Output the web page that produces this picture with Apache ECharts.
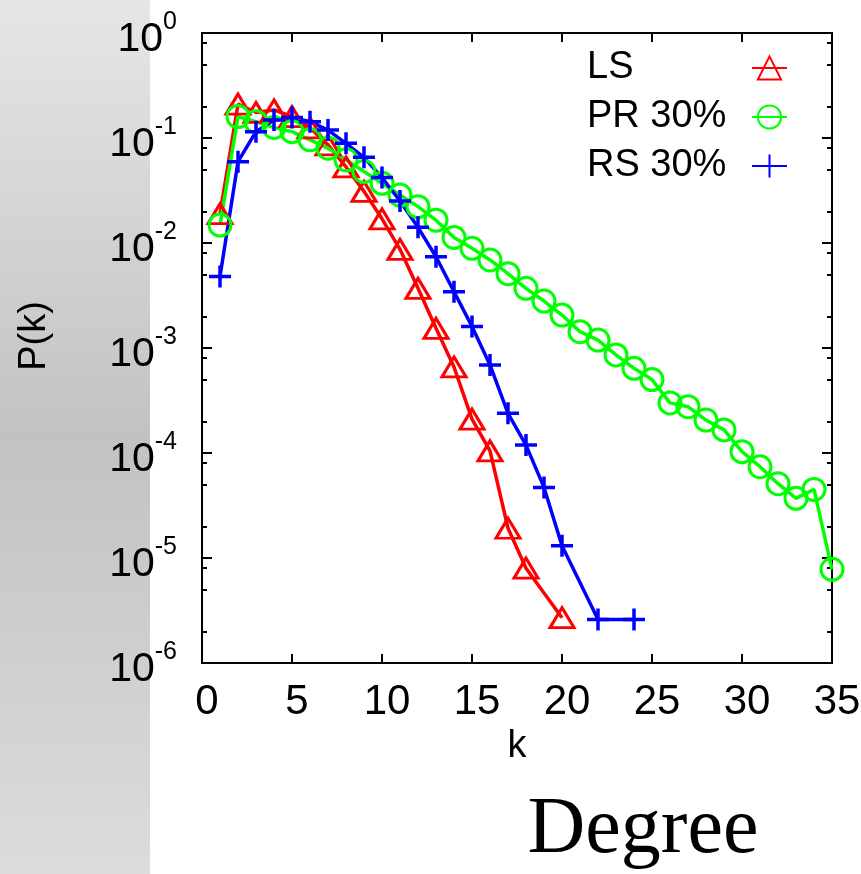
<!DOCTYPE html>
<html>
<head>
<meta charset="utf-8">
<title>P(k)</title>
<script src="https://cdn.jsdelivr.net/npm/echarts@6.0.0/dist/echarts.min.js"></script>
<style>
  html, body { margin: 0; padding: 0; background: #fff; }
  #line { width: 861px; height: 874px; }
</style>
</head>
<body>
<div id="line"></div>
<script>
// degree distribution P(k)
var lsK = [1, 2, 3, 4, 5, 6, 7, 8, 9, 10, 11, 12, 13, 14, 15, 16, 17, 18, 20]
var lsP = [0.019, 0.21, 0.175, 0.185, 0.16, 0.125, 0.086, 0.053, 0.031, 0.017, 0.0087, 0.0037,
  0.00154, 0.00066, 0.00021, 0.000105, 0.0000192, 0.000008, 0.0000027]

var prK = [1, 2, 3, 4, 5, 6, 7, 8, 9, 10, 11, 12, 13, 14, 15, 16, 17, 18, 19, 20,
  21, 22, 23, 24, 25, 26, 27, 28, 29, 30, 31, 32, 33, 34, 35]
var prP = [0.0148, 0.16, 0.143, 0.126, 0.115, 0.096, 0.08, 0.062, 0.048, 0.037, 0.0286, 0.0222,
  0.0165, 0.0113, 0.0089, 0.0069, 0.0051, 0.0037, 0.0028, 0.00206, 0.00143, 0.00119, 0.00086,
  0.00064, 0.0005, 0.0003, 0.000276, 0.000206, 0.000166, 0.000103, 0.000074, 0.000051,
  0.000037, 0.000045, 0.0000078]

var rsK = [1, 2, 3, 4, 5, 6, 7, 8, 9, 10, 11, 12, 13, 14, 15, 16, 17, 18, 19, 20, 22, 24]
var rsP = [0.0048, 0.0595, 0.115, 0.148, 0.157, 0.143, 0.119, 0.089, 0.0655, 0.042, 0.0251,
  0.0141, 0.0074, 0.00344, 0.0016, 0.00069, 0.000239, 0.000119, 0.000047, 0.0000131,
  0.0000026, 0.0000026]

var names = ['LS', 'PR 30%', 'RS 30%']

// tick marks on the log axis
var yMajor = [0.000001, 0.00001, 0.0001, 0.001, 0.01, 0.1, 1]
var yMinor = [0.000002, 0.000005, 0.000008, 0.00002, 0.00005, 0.00008, 0.0002, 0.0005, 0.0008,
  0.002, 0.005, 0.008, 0.02, 0.05, 0.08, 0.2, 0.5, 0.8]

var font = "'Liberation Sans', Arial, sans-serif"

function pairs(ks, ps) {
  return ks.map(function (k, i) { return [k, ps[i]] })
}

var myChart = echarts.init(document.getElementById('line'))

function logAxis(pos, ticks, len, showLine, showLabel) {
  return {
    type: 'log',
    logBase: 10,
    position: pos,
    min: 0.000001,
    max: 1,
    splitLine: { show: false },
    axisLine: { show: showLine, lineStyle: { color: '#000', width: 2 } },
    axisTick: {
      show: true,
      inside: true,
      length: len,
      customValues: ticks,
      lineStyle: { color: '#000', width: 2 }
    },
    axisLabel: {
      show: showLabel,
      customValues: ticks,
      margin: 25,
      formatter: function (v) {
        var e = Math.round(Math.log10(v))
        return '{b|10}{s|' + e + '}'
      },
      rich: {
        // 上标: 靠上对齐, 底数靠下
        b: { fontFamily: font, fontSize: 41, color: '#000', lineHeight: 54, verticalAlign: 'bottom' },
        s: { fontFamily: font, fontSize: 25, color: '#000', height: 32, verticalAlign: 'top' }
      }
    }
  }
}

function xAxis(pos, showLabel) {
  return {
    type: 'value',
    position: pos,
    min: 0,
    max: 35,
    interval: 5,
    splitLine: { show: false },
    axisLine: { show: true, onZero: false, lineStyle: { color: '#000', width: 2 } },
    axisTick: { show: true, inside: true, length: 9, lineStyle: { color: '#000', width: 2 } },
    axisLabel: {
      show: showLabel,
      margin: 18,
      fontFamily: font,
      fontSize: 42,
      color: '#000',
      padding: [0, 0, 0, 10]
    }
  }
}

var bottomX = xAxis('bottom', true)
bottomX.name = 'k'
bottomX.nameLocation = 'middle'
bottomX.nameGap = 56
bottomX.nameTextStyle = { fontFamily: font, fontSize: 38, color: '#000' }

var leftY = logAxis('left', yMajor, 10, true, true)
leftY.name = 'P(k)'
leftY.nameLocation = 'middle'
leftY.nameGap = 148
leftY.nameTextStyle = { fontFamily: font, fontSize: 38, color: '#000', padding: [0, 0, 0, 24] }

var option = {
  animation: false,
  backgroundColor: '#fff',
  graphic: [
    {
      type: 'rect',
      z: -10,
      shape: { x: 0, y: 0, width: 150, height: 874 },
      style: {
        fill: new echarts.graphic.LinearGradient(0, 0, 0, 1, [
          { offset: 0, color: '#e6e6e6' },
          { offset: 0.5, color: '#c2c2c2' },
          { offset: 1, color: '#dcdcdc' }
        ])
      }
    },
    {
      type: 'text',
      x: 643,
      y: 831,
      style: {
        text: 'Degree',
        fontFamily: "'Liberation Serif', 'Times New Roman', serif",
        fontSize: 80,
        fill: '#000',
        align: 'center',
        verticalAlign: 'middle'
      }
    }
  ],
  grid: {
    left: 202,
    right: 29,
    top: 33,
    bottom: 211,
    containLabel: false,
    outerBoundsMode: 'none'
  },
  legend: {
    data: names,
    orient: 'vertical',
    align: 'right',
    left: 587,
    top: 49,
    padding: 0,
    itemGap: 11,
    itemWidth: 35,
    itemHeight: 29,
    selectedMode: false,
    formatter: function (name) {
      return '{a|' + name + '}'
    },
    textStyle: {
      rich: {
        a: { fontFamily: font, fontSize: 38, color: '#000', lineHeight: 40, width: 160, align: 'left' }
      }
    }
  },
  xAxis: [bottomX, xAxis('top', false)],
  yAxis: [
    leftY,
    logAxis('left', yMinor, 5, false, false),
    logAxis('right', yMajor, 10, true, false),
    logAxis('right', yMinor, 5, false, false)
  ],
  series: [
    {
      name: names[0],
      type: 'line',
      data: pairs(lsK, lsP),
      symbol: 'triangle',
      symbolSize: [24, 20],
      itemStyle: { color: 'rgba(0,0,0,0)', borderColor: '#ff0000', borderWidth: 3 },
      lineStyle: { color: '#ff0000', width: 3.5 }
    },
    {
      name: names[1],
      type: 'line',
      data: pairs(prK, prP),
      symbol: 'circle',
      symbolSize: 22,
      itemStyle: { color: 'rgba(0,0,0,0)', borderColor: '#00ff00', borderWidth: 3 },
      lineStyle: { color: '#00ff00', width: 3.5 }
    },
    {
      name: names[2],
      type: 'line',
      data: pairs(rsK, rsP),
      symbol: 'path://M0,10L20,10M10,0L10,20',
      symbolSize: 22,
      itemStyle: { color: 'rgba(0,0,0,0)', borderColor: '#0000ff', borderWidth: 3.5 },
      lineStyle: { color: '#0000ff', width: 3.5 }
    }
  ]
}

myChart.setOption(option)
</script>
</body>
</html>
